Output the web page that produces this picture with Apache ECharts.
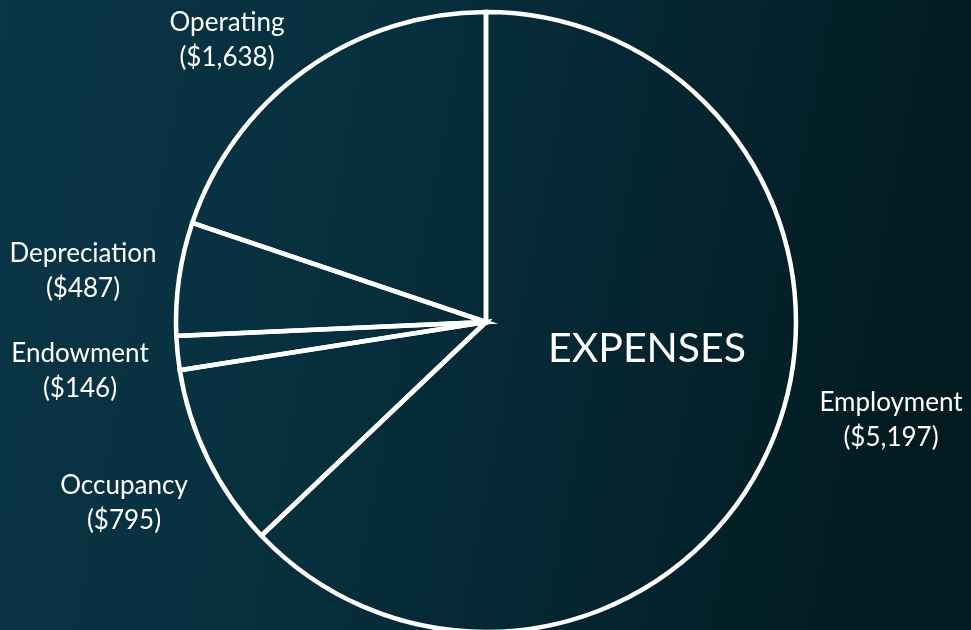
<!DOCTYPE html>
<html>
<head>
<meta charset="utf-8">
<script src="https://cdn.jsdelivr.net/npm/echarts@6/dist/echarts.min.js"></script>
<style>
html,body{margin:0;padding:0;width:971px;height:630px;overflow:hidden;background:#04202a;}
#chart{width:971px;height:630px;}
</style>
</head>
<body>
<div id="chart"></div>
<script>
const categories = ['Employment', 'Occupancy', 'Endowment', 'Depreciation', 'Operating'];
const values = [5197, 795, 146, 487, 1638];
const centerTitle = 'EXPENSES';

const labelSpots = [[891, 420], [124, 503], [80, 371], [83, 271], [227, 40]];

const chart = echarts.init(document.getElementById('chart'));
chart.setOption({
  backgroundColor: {
    type: 'linear', x: 0, y: 0, x2: 1, y2: 0.3,
    colorStops: [
      {offset: 0, color: '#0a3546'},
      {offset: 0.35, color: '#07303f'},
      {offset: 0.7, color: '#042530'},
      {offset: 1, color: '#021a20'}
    ]
  },
  title: {
    text: centerTitle,
    left: 642, top: 344,
    textAlign: 'center', textVerticalAlign: 'middle',
    textStyle: {color: '#fff', fontFamily: 'Lato', fontSize: 41, fontWeight: 'normal'}
  },
  series: [{
    type: 'pie',
    center: [486, 322],
    radius: [0, 310],
    startAngle: 90,
    clockwise: true,
    silent: true,
    animation: false,
    data: categories.map((c, i) => ({name: c, value: values[i]})),
    itemStyle: {color: 'rgba(0,0,0,0)', borderColor: '#ffffff', borderWidth: 4.5, borderJoin: 'miter'},
    label: {
      show: true,
      position: 'outside',
      color: '#ffffff',
      fontFamily: 'Lato',
      fontSize: 26,
      lineHeight: 35,
      align: 'center',
      overflow: 'none',
      formatter: p => p.name + '\n($' + p.value.toLocaleString('en-US') + ')'
    },
    labelLine: {show: false},
    labelLayout: p => ({x: labelSpots[p.dataIndex][0], y: labelSpots[p.dataIndex][1], align: 'center', verticalAlign: 'middle', width: 300})
  }]
});
</script>
</body>
</html>
